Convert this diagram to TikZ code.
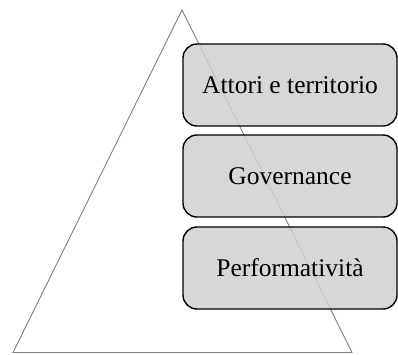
\documentclass[tikz,border=0pt]{standalone}
\usepackage{fontspec}
\setmainfont{Liberation Serif}
\begin{document}
\begin{tikzpicture}[x=1pt,y=-1pt,
  layer/.style={draw=black, line width=1.4pt, rounded corners=14pt,
    fill={rgb,255:red,208;green,208;blue,208}, fill opacity=0.85, text opacity=1,
    minimum width=214pt, minimum height=82pt, inner sep=0pt,
    font=\fontsize{25.5}{30}\selectfont},
  pyramid/.style={draw={rgb,255:red,128;green,128;blue,128}, line width=0.9pt}]
\useasboundingbox (0,0) rectangle (398,354);
% the pyramid outline
\coordinate (apex) at (182,10);
\coordinate (bl) at (13,352.5);
\coordinate (br) at (352,352.5);
\draw[pyramid] (apex) -- (br) -- (bl) -- cycle;
% the three layers
\node[layer] (actors) at (290,85) {Attori e territorio};
\node[layer] (gov) at (290,176) {Governance};
\node[layer] (perf) at (290,268) {Performatività};
\end{tikzpicture}
\end{document}
